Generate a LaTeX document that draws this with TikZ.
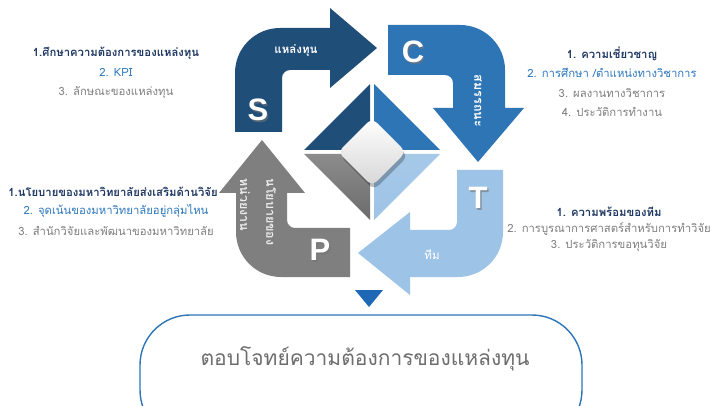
\documentclass[tikz,border=0pt]{standalone}
\usepackage{fontspec}
\setmainfont{Liberation Sans}
\newfontfamily\thai[Script=Thai]{Loma}
\definecolor{cS}{HTML}{1F4E79}
\definecolor{cC}{HTML}{2E75B6}
\definecolor{cT}{HTML}{9DC3E6}
\definecolor{cP}{HTML}{7F7F7F}
\definecolor{navy}{HTML}{1F3864}
\definecolor{blu}{HTML}{2E78BD}
\definecolor{gry}{HTML}{7F7F7F}
\definecolor{boxtext}{HTML}{6D6D6D}
\definecolor{tri}{HTML}{1F68B5}
\tikzset{
  letter/.style={font=\bfseries\fontsize{31}{31}\selectfont, text=white, inner sep=0pt},
  lettershadow/.style={font=\bfseries\fontsize{31}{31}\selectfont, text=black!55, inner sep=0pt, opacity=0.6},
  armtext/.style={font=\thai\fontsize{11.5}{13}\selectfont, text=white, inner sep=0pt},
  armbold/.style={armtext, font=\thai\bfseries\fontsize{11.5}{13}\selectfont},
  armrot/.style={armtext, font=\thai\bfseries\fontsize{12.5}{13}\selectfont, rotate=-90},
  item/.style={font=\thai\fontsize{11.3}{13}\selectfont, inner sep=0pt},
  itemone/.style={item, font=\thai\bfseries\fontsize{11.3}{13}\selectfont, text=navy},
  itemtwo/.style={item, text=blu},
  itemthree/.style={item, text=gry},
}
\begin{document}
\begin{tikzpicture}[x=1pt,y=-1pt]
\useasboundingbox (0,0) rectangle (712,406);
\clip (0,0) rectangle (712,406);
\fill[white] (0,0) rectangle (712,406);

% S arrow
\fill[cS] (235,132) -- (235,73) .. controls (235,48.1) and (255.1,28) .. (280,28) -- (330,28) -- (330,8) -- (377,48) -- (330,88) -- (330,70) -- (290,70) .. controls (285.6,70) and (282,73.6) .. (282,78) -- (282,132) -- cycle;
% C arrow
\fill[cC] (388,25) -- (460,25) .. controls (484.9,25) and (505,45.1) .. (505,70) -- (505,108) -- (524,108) -- (478,162) -- (433,108) -- (453,108) -- (453,83) .. controls (453,78.6) and (449.4,75) .. (445,75) -- (388,75) -- cycle;
% T arrow
\fill[cT] (457,170) -- (503,170) -- (503,232) .. controls (503,256.9) and (482.9,277) .. (458,277) -- (410,277) -- (410,295) -- (358,253) -- (410,212) -- (410,230) -- (449,230) .. controls (453.4,230) and (457,226.4) .. (457,222) -- cycle;
% P arrow
\fill[cP] (350,277) -- (281,277) .. controls (256.1,277) and (236,256.9) .. (236,232) -- (236,193) -- (219,193) -- (262,140) -- (305,193) -- (287,193) -- (287,220) .. controls (287,224.4) and (290.6,228) .. (295,228) -- (350,228) -- cycle;

% central diamond quadrants
\fill[cS] (304,150) -- (370,84) -- (370,150) -- cycle;
\fill[cC] (374,84) -- (440,150) -- (374,150) -- cycle;
\shade[top color=black!45, bottom color=black!58] (304,154) -- (370,154) -- (370,220) -- cycle;
\shade[top color=cT!90!white, bottom color=cT] (374,154) -- (440,154) -- (374,220) -- cycle;
% inner rounded diamond
\fill[black, opacity=0.25, rounded corners=7pt] (374,122) -- (408,156) -- (374,190) -- (340,156) -- cycle;
\shade[top color=white, bottom color=black!16, rounded corners=7pt] (372,118) -- (406,152) -- (372,186) -- (338,152) -- cycle;

% letters
\node[lettershadow] at (259.5,111.5) {S};
\node[letter] (S) at (258,110) {S};
\node[lettershadow] at (414.5,53.5) {C};
\node[letter] (C) at (413,52) {C};
\node[lettershadow] at (479.5,199.5) {T};
\node[letter] (T) at (478,198) {T};
\node[lettershadow] at (321.5,251.5) {P};
\node[letter] (P) at (320,250) {P};

% arm labels
\node[armbold] (sl) at (296,51) {แหล่งทุน};
\node[armrot] (cl) at (478,101) {สมรรถนะ};
\node[armtext] (tl) at (432,255) {ทีม};
\node[armrot, text=white!92!black] (pl1) at (271,212) {นโยบายของ};
\node[armrot, text=white!92!black] (pl2) at (245,205) {หน่วยงาน};

% small triangle
\fill[tri] (355,290) -- (383,290) -- (369,307) -- cycle;

% bottom box
\draw[cC, line width=1.4pt, fill=white, rounded corners=50pt] (140,315) rectangle (582,440);
\node[font=\thai\fontsize{21}{24}\selectfont, text=boxtext] (goal) at (365,359) {ตอบโจทย์ความต้องการของแหล่งทุน};

% text blocks
\node[itemone] (a1) at (116,53) {1.ศึกษาความต้องการของแหล่งทุน};
\node[itemtwo] (a2) at (116,72) {2. KPI};
\node[itemthree] (a3) at (116,92) {3. ลักษณะของแหล่งทุน};

\node[itemone] (b1) at (612,54) {1. ความเชี่ยวชาญ};
\node[itemtwo] (b2) at (612,73) {2. การศึกษา /ตำแหน่งทางวิชาการ};
\node[itemthree] (b3) at (612,93) {3. ผลงานทางวิชาการ};
\node[itemthree] (b4) at (612,112) {4. ประวัติการทำงาน};

\node[itemone] (c1) at (113,192) {1.นโยบายของมหาวิทยาลัยส่งเสริมด้านวิจัย};
\node[itemtwo] (c2) at (116,211) {2. จุดเน้นของมหาวิทยาลัยอยู่กลุ่มไหน};
\node[itemthree] (c3) at (116,231) {3. สำนักวิจัยและพัฒนาของมหาวิทยาลัย};

\node[itemone] (d1) at (609,212) {1. ความพร้อมของทีม};
\node[itemthree] (d2) at (609,229) {2. การบูรณาการศาสตร์สำหรับการทำวิจัย};
\node[itemthree] (d3) at (609,245) {3. ประวัติการขอทุนวิจัย};
\end{tikzpicture}
\end{document}
